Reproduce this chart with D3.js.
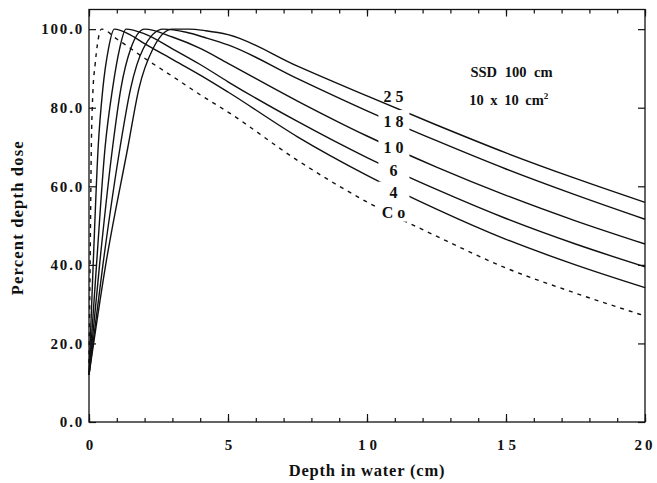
<!DOCTYPE html>
<html lang="en">
<head>
<meta charset="utf-8">
<style>
  html, body { margin: 0; padding: 0; background: #fff; }
  svg { display: block; }
  text { font-family: "Liberation Serif", "Times New Roman", serif; font-weight: bold; fill: #111; }
  .tick text { font-size: 15px; }
  .x-axis .tick text { letter-spacing: 4px; }
  .y-axis .tick text { letter-spacing: 1.8px; }
  .curve { fill: none; stroke: #111; stroke-width: 1.4; }
  .curve.dashed { stroke-dasharray: 4 5; }
</style>
</head>
<body>
<svg width="657" height="483"></svg>
<script src="https://cdn.jsdelivr.net/npm/d3@7"></script>
<script>
  // depth (cm), percent depth dose
  const co60 = [[0, 15], [0.04, 40], [0.08, 68], [0.14, 84], [0.22, 91], [0.3, 96], [0.45, 100],
    [1, 97.5], [2, 92.6], [3, 88], [4, 83.3], [5, 78.9], [7.5, 66.6], [10, 56], [12.5, 47.3],
    [15, 39.2], [17.5, 32.8], [20, 27]]
  const mv4 = [[0, 12], [0.15, 40], [0.33, 70], [0.5, 85], [0.7, 95], [0.91, 100],
    [1.5, 98.5], [2, 96.3], [3, 92.3], [4, 88.3], [5, 84], [7.5, 72.6], [10, 62.8], [12.5, 54.2],
    [15, 46.5], [17.5, 40], [20, 34.2]]
  const mv6 = [[0, 12], [0.27, 40], [0.58, 70], [0.85, 85], [1.1, 95], [1.33, 100],
    [2, 98.8], [3, 95], [4, 91], [5, 86.6], [7.5, 76.5], [10, 67.3], [12.5, 59.2],
    [15, 51.8], [17.5, 45.3], [20, 39.5]]
  const mv10 = [[0, 12], [0.38, 40], [0.85, 70], [1.15, 85], [1.5, 95], [2, 100],
    [3, 98], [4, 95.1], [5, 91.3], [7.5, 81.7], [10, 72.8], [12.5, 64.9],
    [15, 57.7], [17.5, 51.2], [20, 45.3]]
  const mv18 = [[0, 12], [0.5, 40], [1.12, 70], [1.5, 85], [1.95, 95], [2.67, 100],
    [3.5, 99.2], [4.2, 97.8], [5, 96], [7.5, 87.4], [10, 79.2], [12.5, 71.6],
    [15, 64.4], [17.5, 57.8], [20, 51.6]]
  const mv25 = [[0, 12], [0.6, 40], [1.4, 70], [1.8, 85], [2.3, 95], [3, 100], [3.6, 100],
    [4.2, 99.6], [5, 98.6], [7.5, 90.6], [10, 83], [12.5, 75.6], [15, 68.5],
    [17.5, 62], [20, 55.9]]

  const curves = [mv25, mv18, mv10, mv6, mv4, co60]
  const curveNames = ["25", "18", "10", "6", "4", "Co"]
  const curveDashed = [false, false, false, false, false, true]
  // where each curve label sits (depth, dose)
  const labelAt = [[10.95, 83], [10.95, 76.6], [10.95, 69.8], [10.95, 64], [10.95, 58.4], [10.95, 53.3]]

  const xTicksMajor = [0, 5, 10, 15, 20]
  const xTicksMinor = d3.range(0, 21, 1)
  const yTicks = [0, 20, 40, 60, 80, 100]

  const svg = d3.select("svg")

  const x = d3.scaleLinear().domain([0, 20]).range([89, 645])
  const y = d3.scaleLinear().domain([0, 105]).range([422, 9.5])

  // frame
  svg.append("rect")
    .attr("x", x(0)).attr("y", y(105))
    .attr("width", x(20) - x(0)).attr("height", y(0) - y(105))
    .attr("fill", "none").attr("stroke", "#111").attr("stroke-width", 1.3)

  // bottom axis: minor then major ticks pointing in
  svg.append("g")
    .attr("transform", `translate(0,${y(0)})`)
    .call(d3.axisBottom(x).tickValues(xTicksMinor).tickSize(-4).tickFormat(""))
    .call(g => g.select(".domain").remove())

  svg.append("g")
    .attr("class", "x-axis")
    .attr("transform", `translate(0,${y(0)})`)
    .call(d3.axisBottom(x).tickValues(xTicksMajor).tickSize(-8).tickPadding(17).tickFormat(d3.format("d")))
    .call(g => g.select(".domain").remove())
    .call(g => g.selectAll(".tick text").attr("dx", "2px"))
    .call(g => g.selectAll(".tick text").filter(d => d === 20)
      .attr("text-anchor", "end").attr("dx", "10px").style("letter-spacing", "3px"))

  // top axis ticks
  svg.append("g")
    .attr("transform", `translate(0,${y(105)})`)
    .call(d3.axisTop(x).tickValues(xTicksMinor).tickSize(-4).tickFormat(""))
    .call(g => g.select(".domain").remove())
  svg.append("g")
    .attr("transform", `translate(0,${y(105)})`)
    .call(d3.axisTop(x).tickValues(xTicksMajor).tickSize(-7).tickFormat(""))
    .call(g => g.select(".domain").remove())

  // left axis
  svg.append("g")
    .attr("class", "y-axis")
    .attr("transform", `translate(${x(0)},0)`)
    .call(d3.axisLeft(y).tickValues(yTicks).tickSize(-7).tickPadding(5).tickFormat(d3.format(".1f")))
    .call(g => g.select(".domain").remove())

  // right axis ticks
  svg.append("g")
    .attr("transform", `translate(${x(20)},0)`)
    .call(d3.axisRight(y).tickValues(yTicks).tickSize(-7).tickFormat(""))
    .call(g => g.select(".domain").remove())

  svg.selectAll(".tick line").attr("stroke", "#111").attr("stroke-width", 1.2)

  // curves
  const line = d3.line()
    .x(d => x(d[0]))
    .y(d => y(d[1]))
    .curve(d3.curveMonotoneX)

  svg.append("g")
    .selectAll("path")
    .data(curves)
    .join("path")
    .attr("class", (d, i) => curveDashed[i] ? "curve dashed" : "curve")
    .attr("d", line)

  // curve labels, white box behind breaks the lines like the original
  const lab = svg.append("g")
    .selectAll("g")
    .data(curveNames)
    .join("g")
    .attr("transform", (d, i) => `translate(${x(labelAt[i][0])},${y(labelAt[i][1])})`)

  lab.filter((d, i) => i > 0).append("rect")
    .attr("x", -15).attr("y", -11)
    .attr("width", 31).attr("height", 20)
    .attr("fill", "#fff")

  lab.append("text")
    .attr("text-anchor", "middle")
    .attr("dy", "0.35em")
    .attr("dx", "2px")
    .style("font-size", "16px")
    .style("letter-spacing", "4px")
    .text(d => d)

  // field annotation
  svg.append("text")
    .attr("x", x(15.2)).attr("y", y(87.8))
    .attr("text-anchor", "middle")
    .style("font-size", "14.5px")
    .style("word-spacing", "4px")
    .text("SSD 100 cm")

  const fs = svg.append("text")
    .attr("x", x(15.1)).attr("y", y(80.7))
    .attr("text-anchor", "middle")
    .style("font-size", "14.5px")
    .style("word-spacing", "3px")
  fs.append("tspan").text("10 x 10 cm")
  fs.append("tspan").attr("dy", "-6").style("font-size", "9px").text("2")

  // axis titles
  svg.append("text")
    .attr("x", (x(0) + x(20)) / 2)
    .attr("y", 476)
    .attr("text-anchor", "middle")
    .style("font-size", "16.5px")
    .style("letter-spacing", "0.8px")
    .text("Depth in water (cm)")

  svg.append("text")
    .attr("transform", `translate(23,${(y(0) + y(105)) / 2 + 2}) rotate(-90)`)
    .attr("text-anchor", "middle")
    .style("font-size", "16.5px")
    .style("letter-spacing", "1.2px")
    .text("Percent depth dose")
</script>
</body>
</html>
